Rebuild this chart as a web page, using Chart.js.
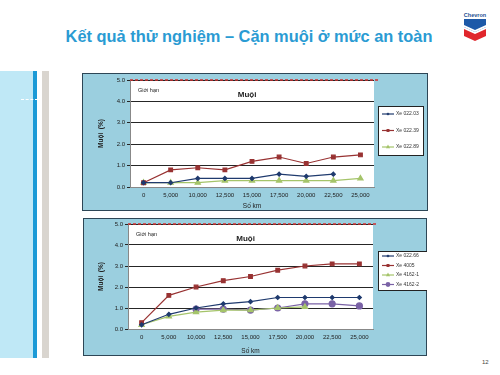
<!DOCTYPE html>
<html>
<head>
<meta charset="utf-8">
<script src="https://cdn.jsdelivr.net/npm/chart.js@4"></script>
<style>
  body { margin: 0; width: 500px; height: 375px; background: #fff; position: relative; overflow: hidden; font-family: "Liberation Sans", Arial, sans-serif; }
  .abs { position: absolute; }
  #title { left: 0; width: 498px; top: 27px; text-align: center; font-weight: bold; font-size: 16.4px; color: #2a9bd3; }
  #pageno { left: 482px; top: 359px; font-size: 6px; color: #444; }
</style>
</head>
<body>
<div class="abs" style="left:0;top:71px;width:33px;height:287px;background:#bfe8f6"></div>
<div class="abs" style="left:33px;top:71px;width:4px;height:287px;background:#1b9ad6"></div>
<div class="abs" style="left:42px;top:71px;width:7px;height:287px;background:#d9d5cf"></div>
<div class="abs" style="left:21px;top:99px;width:17px;border-top:1px dashed #fff"></div>
<div id="title" class="abs">Kết quả thử nghiệm – Cặn muội ở mức an toàn</div>
<svg class="abs" style="left:460px;top:12px" width="30" height="30" viewBox="0 0 30 30">
  <text x="15" y="5" font-size="5.5" font-weight="bold" fill="#1d4f91" text-anchor="middle" font-family="Liberation Sans">Chevron</text>
  <polygon points="4,7 26,7 26,15 15,20 4,15" fill="#1d59a8"/>
  <polygon points="4,13 15,18 26,13 26,15 15,20 4,15" fill="#fff"/>
  <polygon points="4,17 15,22 26,17 26,24 15,29 4,24" fill="#e0262c"/>
</svg>
<div id="pageno" class="abs">12</div>
<canvas id="c1" class="abs" style="left:82px;top:73px" width="346" height="138"></canvas>
<canvas id="c2" class="abs" style="left:83px;top:218px" width="344" height="138"></canvas>
<script>
const kmLabels = ['0', '5,000', '10,000', '12,500', '15,000', '17,500', '20,000', '22,500', '25,000'];

const top1Names = ['Xe 022.03', 'Xe 022.39', 'Xe 022.89'];
const xe02203 = [0.2, 0.2, 0.4, 0.4, 0.4, 0.6, 0.5, 0.6, null];
const xe02239 = [0.2, 0.8, 0.9, 0.8, 1.2, 1.4, 1.1, 1.4, 1.5];
const xe02289 = [0.2, 0.2, 0.2, 0.3, 0.3, 0.3, 0.3, 0.3, 0.4];

const bot2Names = ['Xe 022.66', 'Xe 4005', 'Xe 4162-1', 'Xe 4162-2'];
const xe02266 = [0.2, 0.7, 1.0, 1.2, 1.3, 1.5, 1.5, 1.5, 1.5];
const xe4005 = [0.3, 1.6, 2.0, 2.3, 2.5, 2.8, 3.0, 3.1, 3.1];
const xe41621 = [0.2, 0.6, 0.8, 0.9, 0.9, 1.0, 1.05, null, null];
const xe41622 = [null, null, 0.95, 0.95, 0.9, 1.0, 1.2, 1.2, 1.1];

const limitValue = 5.0;
const limitText = 'Giới hạn';
const chartTitle = 'Muội';
const yTitle = 'Muội  (%)';
const xTitle = 'Số km';

const styles = [
  { color: '#1f3a6e', point: 'rectRot', r: 2 },
  { color: '#983232', point: 'rect', r: 2.6 },
  { color: '#a5c46a', point: 'triangle', r: 3 },
  { color: '#7a62a6', point: 'circle', r: 3 }
];

const FONT = '"Liberation Sans", Arial, sans-serif';

function makeSets(names, series) {
  return names.map((n, i) => ({
    label: n,
    data: series[i],
    borderColor: styles[i].color,
    backgroundColor: styles[i].color,
    pointStyle: styles[i].point,
    pointRadius: styles[i].r,
    borderWidth: 1.2,
    tension: 0,
    spanGaps: false
  }));
}

const decor = {
  id: 'decor',
  beforeDraw(chart) {
    const { ctx, chartArea: a, width, height } = chart;
    ctx.save();
    ctx.fillStyle = '#9bcfdf';
    ctx.fillRect(0, 0, width, height);
    ctx.strokeStyle = '#2d4656';
    ctx.lineWidth = 1;
    ctx.strokeRect(0.5, 0.5, width - 1, height - 1);
    ctx.fillStyle = '#ffffff';
    ctx.fillRect(a.left, a.top, a.right - a.left, a.bottom - a.top);
    ctx.restore();
  },
  afterDatasetsDraw(chart) {
    const { ctx, chartArea: a, scales } = chart;
    const y = scales.y.getPixelForValue(limitValue);
    ctx.save();
    ctx.strokeStyle = '#d03030';
    ctx.lineWidth = 1.5;
    ctx.setLineDash([3, 2]);
    ctx.beginPath();
    ctx.moveTo(a.left, y);
    ctx.lineTo(a.right + 4, y);
    ctx.stroke();
    ctx.setLineDash([]);
    ctx.fillStyle = '#222';
    ctx.font = '5.5px ' + FONT;
    ctx.textBaseline = 'middle';
    ctx.fillText(limitText, a.left + 8, y + 10);
    ctx.font = 'bold 8px ' + FONT;
    ctx.textAlign = 'center';
    ctx.fillText(chartTitle, a.left + (a.right - a.left) * 0.48, y + 15);
    // legend
    const lg = chart.options.plugins.boxLegend;
    ctx.fillStyle = '#fff';
    ctx.strokeStyle = '#222';
    ctx.lineWidth = 1;
    ctx.fillRect(lg.x, lg.y, lg.w, lg.h);
    ctx.strokeRect(lg.x + 0.5, lg.y + 0.5, lg.w, lg.h);
    ctx.font = '5px ' + FONT;
    ctx.textAlign = 'left';
    chart.data.datasets.forEach((ds, i) => {
      const ly = lg.y + lg.first + i * lg.step;
      ctx.strokeStyle = ds.borderColor;
      ctx.lineWidth = 1.2;
      ctx.beginPath();
      ctx.moveTo(lg.x + 4, ly);
      ctx.lineTo(lg.x + 16, ly);
      ctx.stroke();
      ctx.fillStyle = ds.borderColor;
      Chart.helpers.drawPoint(ctx, { pointStyle: ds.pointStyle, radius: ds.pointRadius * 0.8, borderWidth: 0 }, lg.x + 10, ly);
      ctx.fillStyle = '#333';
      ctx.fillText(ds.label, lg.x + 18, ly);
    });
    ctx.restore();
  }
};

function makeChart(id, names, series, pad, yW, xH, legend) {
  new Chart(document.getElementById(id), {
    type: 'line',
    data: { labels: kmLabels, datasets: makeSets(names, series) },
    options: {
      responsive: false,
      animation: false,
      layout: { padding: pad },
      plugins: { legend: { display: false }, tooltip: { enabled: false }, boxLegend: legend },
      scales: {
        x: {
          offset: true,
          grid: { display: false, drawTicks: false },
          border: { color: '#888' },
          ticks: { color: '#222', font: { size: 6, family: FONT }, maxRotation: 0, padding: 5 },
          title: { display: true, text: xTitle, color: '#222', font: { size: 6.5, family: FONT }, padding: { top: 0, bottom: 1 } },
          afterFit(s) { s.height = xH; }
        },
        y: {
          min: 0,
          max: 5,
          ticks: { stepSize: 1, color: '#222', font: { size: 6, family: FONT }, padding: 2, callback: v => v.toFixed(1) },
          grid: { color: '#262626', lineWidth: 1, tickLength: 3, drawTicks: true },
          border: { color: '#888' },
          title: { display: true, text: yTitle, color: '#222', font: { size: 6.5, weight: 'bold', family: FONT }, padding: 0 },
          afterFit(s) { s.width = yW; }
        }
      }
    },
    plugins: [decor]
  });
}

makeChart('c1', top1Names, [xe02203, xe02239, xe02289],
  { left: 15, right: 54, top: 7, bottom: 0 }, 33, 24,
  { x: 296, y: 33, w: 45, h: 49, first: 8, step: 16.5 });

makeChart('c2', bot2Names, [xe02266, xe4005, xe41621, xe41622],
  { left: 14, right: 54, top: 6, bottom: 0 }, 31, 27,
  { x: 295, y: 33, w: 49, h: 39, first: 5, step: 9.5 });
</script>
</body>
</html>
